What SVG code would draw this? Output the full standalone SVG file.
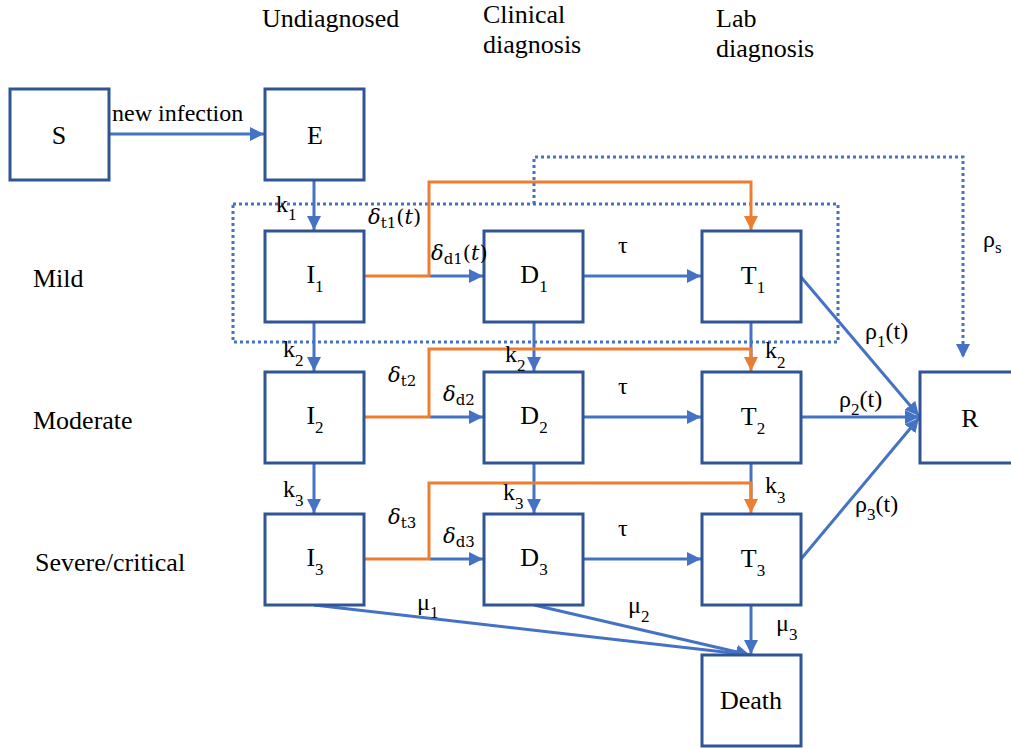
<svg xmlns="http://www.w3.org/2000/svg" width="1011" height="749" viewBox="0 0 1011 749" font-family="Liberation Serif">
<style>
.box{fill:#fff;stroke:#2F5597;stroke-width:3}
.t{font-family:'Liberation Serif';font-size:26px;fill:#000}
.lb{font-family:'Liberation Serif';font-size:24px;fill:#000}
.dl{font-family:'DejaVu Serif';font-size:21px;fill:#000}
.c{font-family:'Liberation Serif';font-size:26px;fill:#000;text-anchor:middle}
.sub{font-size:17px}
.dsub{font-size:15px}
.b{fill:none;stroke:#4472C4;stroke-width:3}
.o{fill:none;stroke:#ED7D31;stroke-width:3}
.d{fill:none;stroke:#4472C4;stroke-width:3;stroke-dasharray:3 3}
.i{font-style:italic}
</style>
<defs>
<marker id="ab" markerUnits="userSpaceOnUse" markerWidth="16" markerHeight="16" refX="14" refY="8" orient="auto"><path d="M0,1 L14,8 L0,15 Z" fill="#4472C4"/></marker>
<marker id="ao" markerUnits="userSpaceOnUse" markerWidth="16" markerHeight="16" refX="14" refY="8" orient="auto"><path d="M0,1 L14,8 L0,15 Z" fill="#ED7D31"/></marker>
</defs>

<text class="t" x="262" y="27">Undiagnosed</text>
<text class="t" x="483" y="23">Clinical</text>
<text class="t" x="483" y="53">diagnosis</text>
<text class="t" x="716" y="27">Lab</text>
<text class="t" x="716" y="57">diagnosis</text>
<text class="t" x="33" y="287">Mild</text>
<text class="t" x="33" y="429">Moderate</text>
<text class="t" x="35" y="571">Severe/critical</text>

<g id="connectors">
<path class="d" d="M233,204 H838 V342 H233 Z"/>
<path class="d" d="M534,204 V157 H963 V358" marker-end="url(#ab)"/>
<path class="b" d="M110,134 H264" marker-end="url(#ab)"/>
<path class="b" d="M314,180 V230" marker-end="url(#ab)"/>
<path class="b" d="M314,322 V371" marker-end="url(#ab)"/>
<path class="b" d="M314,463 V513" marker-end="url(#ab)"/>
<path class="b" d="M534,322 V371" marker-end="url(#ab)"/>
<path class="b" d="M534,463 V513" marker-end="url(#ab)"/>
<path class="b" d="M751,322 V360"/>
<path class="b" d="M751,463 V500"/>
<path class="b" d="M430,276 H483" marker-end="url(#ab)"/>
<path class="b" d="M430,417 H483" marker-end="url(#ab)"/>
<path class="b" d="M430,559 H483" marker-end="url(#ab)"/>
<path class="b" d="M583,276 H701" marker-end="url(#ab)"/>
<path class="b" d="M583,417 H701" marker-end="url(#ab)"/>
<path class="b" d="M583,559 H701" marker-end="url(#ab)"/>
<path class="o" d="M364,276 H429 V182 H751 V230" marker-end="url(#ao)"/>
<path class="o" d="M364,417 H429 V349 H751 V371" marker-end="url(#ao)"/>
<path class="o" d="M364,559 H429 V483 H751 V513" marker-end="url(#ao)"/>
<path class="b" d="M801,277 L919,416" marker-end="url(#ab)"/>
<path class="b" d="M801,417 H919" marker-end="url(#ab)"/>
<path class="b" d="M801,559 L919,418" marker-end="url(#ab)"/>
<path class="b" d="M314,605 L750,655" marker-end="url(#ab)"/>
<path class="b" d="M534,605 L750,655" marker-end="url(#ab)"/>
<path class="b" d="M751,605 V654" marker-end="url(#ab)"/>
</g>

<g id="S"><rect class="box" x="10" y="89" width="99" height="91"/><text class="c" x="59" y="144">S</text></g>
<g id="E"><rect class="box" x="265" y="89" width="99" height="91"/><text class="c" x="315" y="144">E</text></g>
<g id="I1"><rect class="box" x="265" y="231" width="99" height="91"/><text class="c" x="315" y="283">I<tspan class="sub" dy="9">1</tspan></text></g>
<g id="D1"><rect class="box" x="484" y="231" width="99" height="91"/><text class="c" x="534" y="283">D<tspan class="sub" dy="9">1</tspan></text></g>
<g id="T1"><rect class="box" x="702" y="231" width="99" height="91"/><text class="c" x="753" y="284">T<tspan class="sub" dy="9">1</tspan></text></g>
<g id="I2"><rect class="box" x="265" y="372" width="99" height="91"/><text class="c" x="315" y="424">I<tspan class="sub" dy="9">2</tspan></text></g>
<g id="D2"><rect class="box" x="484" y="372" width="99" height="91"/><text class="c" x="534" y="424">D<tspan class="sub" dy="9">2</tspan></text></g>
<g id="T2"><rect class="box" x="702" y="372" width="99" height="91"/><text class="c" x="753" y="425">T<tspan class="sub" dy="9">2</tspan></text></g>
<g id="I3"><rect class="box" x="265" y="514" width="99" height="91"/><text class="c" x="315" y="566">I<tspan class="sub" dy="9">3</tspan></text></g>
<g id="D3"><rect class="box" x="484" y="514" width="99" height="91"/><text class="c" x="534" y="566">D<tspan class="sub" dy="9">3</tspan></text></g>
<g id="T3"><rect class="box" x="702" y="514" width="99" height="91"/><text class="c" x="753" y="567">T<tspan class="sub" dy="9">3</tspan></text></g>
<g id="R"><rect class="box" x="920" y="372" width="99" height="91"/><text class="c" x="970" y="427">R</text></g>
<g id="Death"><rect class="box" x="702" y="655" width="99" height="91"/><text class="c" x="751" y="709">Death</text></g>

<g id="labels">
<text class="lb" x="112" y="121" font-size="25">new infection</text>
<text class="lb" x="276" y="212">k<tspan class="sub" dy="8">1</tspan></text>
<text class="dl" x="368" y="224"><tspan class="i">δ</tspan><tspan class="dsub" dy="4">t1</tspan><tspan dy="-4">(</tspan><tspan class="i">t</tspan>)</text>
<text class="dl" x="431" y="260"><tspan class="i">δ</tspan><tspan class="dsub" dy="4">d1</tspan><tspan dy="-4">(</tspan><tspan class="i">t</tspan>)</text>
<text class="lb" x="618" y="253">τ</text>
<text class="lb" x="283" y="357">k<tspan class="sub" dy="9">2</tspan></text>
<text class="lb" x="505" y="362">k<tspan class="sub" dy="9">2</tspan></text>
<text class="lb" x="765" y="358">k<tspan class="sub" dy="10">2</tspan></text>
<text class="dl" x="388" y="382"><tspan class="i">δ</tspan><tspan class="dsub" dy="4">t2</tspan></text>
<text class="dl" x="443" y="401"><tspan class="i">δ</tspan><tspan class="dsub" dy="4">d2</tspan></text>
<text class="lb" x="618" y="394">τ</text>
<text class="lb" x="865" y="339">ρ<tspan class="sub" dy="8">1</tspan><tspan dy="-8">(t)</tspan></text>
<text class="lb" x="839" y="407">ρ<tspan class="sub" dy="8">2</tspan><tspan dy="-8">(t)</tspan></text>
<text class="lb" x="983" y="247">ρ<tspan class="sub" dy="6">s</tspan></text>
<text class="lb" x="283" y="497">k<tspan class="sub" dy="9">3</tspan></text>
<text class="lb" x="503" y="500">k<tspan class="sub" dy="9">3</tspan></text>
<text class="lb" x="765" y="493">k<tspan class="sub" dy="10">3</tspan></text>
<text class="dl" x="388" y="524"><tspan class="i">δ</tspan><tspan class="dsub" dy="4">t3</tspan></text>
<text class="dl" x="443" y="543"><tspan class="i">δ</tspan><tspan class="dsub" dy="4">d3</tspan></text>
<text class="lb" x="618" y="536">τ</text>
<text class="lb" x="855" y="512">ρ<tspan class="sub" dy="8">3</tspan><tspan dy="-8">(t)</tspan></text>
<text class="lb" x="417" y="610">μ<tspan class="sub" dy="8">1</tspan></text>
<text class="lb" x="628" y="613">μ<tspan class="sub" dy="9">2</tspan></text>
<text class="lb" x="776" y="631">μ<tspan class="sub" dy="9">3</tspan></text>
</g>
</svg>
